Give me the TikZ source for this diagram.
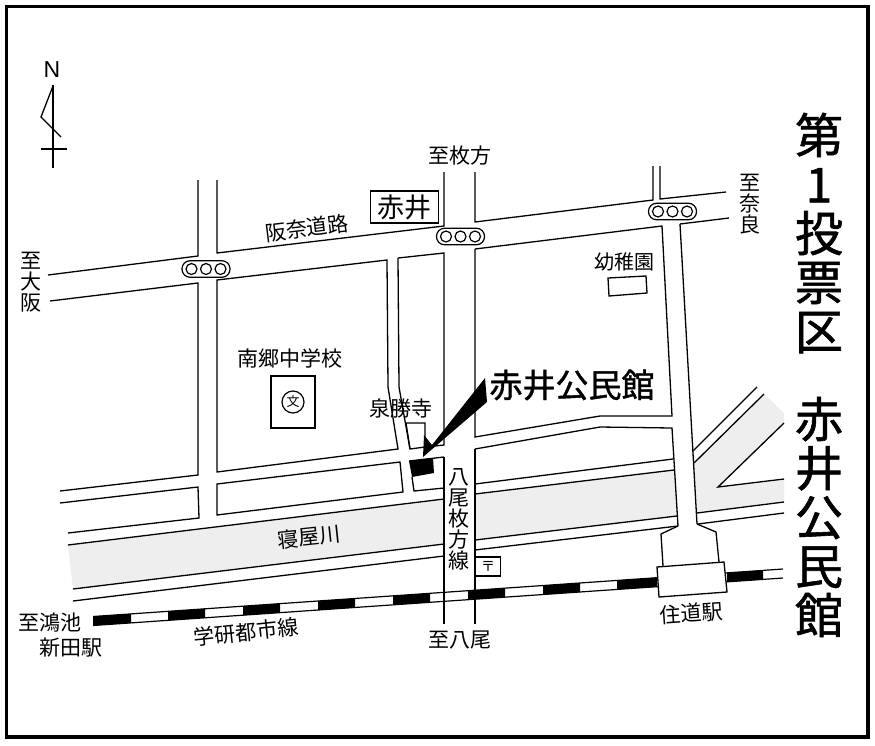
\documentclass[tikz,border=0pt]{standalone}
\usepackage{fontspec}
\setmainfont{Noto Sans CJK JP}
\newfontfamily\latinfont{Liberation Sans}
\newfontfamily\medfont[FakeBold=1.2]{Noto Sans CJK JP}
\definecolor{rivergray}{HTML}{EEEEEE}
\tikzset{
  road/.style={line width=1.3pt,line join=miter},
  lab/.style={inner sep=0pt,align=center,font=\fontsize{21}{21}\selectfont},
  title/.style={inner sep=0pt,align=center,font=\medfont\fontsize{48}{49}\selectfont},
  sigcap/.style={draw,line width=1.2pt,fill=white,rounded corners=8pt,minimum width=48pt,minimum height=16.5pt,inner sep=0pt},
  sigdot/.style={draw,line width=1.2pt,circle,fill=white,minimum size=11pt,inner sep=0pt},
  signal/.pic={
    \node[sigcap] (-cap) at (0,0) {};
    \node[sigdot] (-a) at (-14.5,0) {};
    \node[sigdot] (-b) at (0,0) {};
    \node[sigdot] (-c) at (14.5,0) {};
  }
}
\begin{document}
\begin{tikzpicture}[x=1pt,y=-1pt]
\useasboundingbox (0,0) rectangle (875,745);
\fill[white] (0,0) rectangle (875,745);
% frame
\draw[line width=3.6pt] (6.5,6.5) rectangle (868,737);
% north mark
\node[inner sep=0pt,font=\latinfont\fontsize{23}{23}\selectfont] (north) at (52,70) {N};
\draw[line width=1.3pt] (53,85) -- (53,168);
\draw[line width=1.3pt] (53,86) -- (41,117) -- (61,137);
\draw[line width=1.3pt] (41,149) -- (67,149);
% river fill
\fill[rivergray] (68,545) -- (444,499) -- (444,544) -- (73,589) -- cycle;
\fill[rivergray] (475,494) -- (674,470) -- (677,516) -- (475,540) -- cycle;
\fill[rivergray] (694,463) -- (764,394) -- (784,413) -- (784,423) -- (718,487) -- (784,479) -- (784,502) -- (697,513) -- cycle;
% railway
\foreach \xa/\xb in {93/131,168/205,243/280,318/355,393/430,468/505,543/580,617/657,727/763}{
  \fill (\xa,{621-0.0688*(\xa-93)-4.5}) -- (\xb,{621-0.0688*(\xb-93)-4.5}) -- (\xb,{621-0.0688*(\xb-93)+4.5}) -- (\xa,{621-0.0688*(\xa-93)+4.5}) -- cycle;
}
\draw[line width=1.2pt] (93,616.5) -- (783,569);
\draw[line width=1.2pt] (93,625.5) -- (783,578);
% Hanna road
\draw[road] (48,275) -- (198,256) -- (198,180);
\draw[road] (217,180) -- (217,253) -- (444,226) -- (444,172);
\draw[road] (475,172) -- (475,222) -- (653,200) -- (653,166);
\draw[road] (660,166) -- (660,199) -- (726,192);
\draw[road] (50,301) -- (198,283) -- (198,475) -- (60,491);
\draw[road] (217,280) -- (387,260) -- (388,387) -- (398,449) -- (217,472) -- cycle;
\draw[road] (398,258) -- (444,253) -- (444,445) -- (425,447);
\draw[road] (398,258) -- (399,387) -- (410,449) -- (425,447);
\draw[road] (410,449) -- (406,423) -- (425,423) -- (425,450);
\draw[road] (475,249) -- (662,226) -- (672,416) -- (600,416) -- (475,437) -- (475,249);
\draw[road] (680,224) -- (729,218);
\draw[road] (680,224) -- (697,524);
% lower blocks
\draw[road] (60,503) -- (198,487) -- (199,518) -- (68,533);
\draw[road] (217,484) -- (400,462) -- (403,492) -- (217,515) -- cycle;
\draw[road] (409,461) -- (444,457);
\draw[road] (412,477) -- (414,491) -- (444,488);
\draw[road] (444,457) -- (444,624);
\draw[road] (475,449) -- (475,624);
\draw[road] (475,449) -- (600,427) -- (672,428) -- (678,526);
\draw[road] (475,484) -- (673,459);
\draw[road] (475,494) -- (674,470);
\draw[road] (475,540) -- (677,516);
\draw[road] (475,550) -- (678,526);
% river banks, west
\draw[road] (68,545) -- (444,499);
\draw[road] (73,589) -- (444,544);
\draw[road] (73,601) -- (444,556);
% east of road
\draw[road] (693,451) -- (757,387);
\draw[road] (694,463) -- (764,394);
\draw[road] (784,423) -- (718,487) -- (784,479);
\draw[road] (697,513) -- (784,502);
\draw[road] (698,524) -- (784,513);
% station
\draw[road] (678,526) -- (661,534) -- (663,566);
\draw[road] (697,524) -- (716,532) -- (719,562);
\draw[road,fill=white] (657,567) -- (724,562) -- (727,592) -- (659,597) -- cycle;
% signals
\pic (sa) at (206,269) {signal};
\pic (sb) at (460.5,236.5) {signal};
\pic (sc) at (672.5,211.5) {signal};
% small boxes
\node[draw,line width=1.3pt,fill=white,minimum width=68pt,minimum height=32pt,inner sep=0pt,font=\fontsize{27}{27}\selectfont] (akai) at (404.5,207) {赤井};
\draw[road] (608,278) -- (646,276) -- (647,293) -- (609,296) -- cycle;
\node[draw,line width=1.3pt,minimum width=44pt,minimum height=52pt,inner sep=0pt] (school) at (293,402) {};
\node[draw,circle,line width=1.2pt,minimum size=22pt,inner sep=0pt,font=\fontsize{13}{13}\selectfont] (schoolmark) at (293,402) {文};
\node[draw,line width=1.3pt,minimum width=25pt,minimum height=19pt,inner sep=0pt,font=\fontsize{14}{14}\selectfont] (post) at (488,566.5) {〒};
% target
\fill (409,461) -- (433,458) -- (434,473) -- (412,477) -- cycle;
\fill (423,457) -- (424,435) -- (432,445) -- (485,378) -- (487,402) -- cycle;
% labels
\node[lab] (l1) at (460,156) {至枚方};
\node[lab] (l2) at (750,204.5) {至\\奈\\良};
\node[lab] (l3) at (31,282) {至\\大\\阪};
\node[lab,rotate=7] (l4) at (307,228) {阪奈道路};
\node[lab,font=\fontsize{20}{20}\selectfont] (l5) at (624,262) {幼稚園};
\node[lab] (l6) at (290,358) {南郷中学校};
\node[lab] (l7) at (401,408) {泉勝寺};
\node[lab,rotate=6] (l8) at (309,537) {寝屋川};
\node[lab] (l9) at (459,519.5) {八\\尾\\枚\\方\\線};
\node[lab] (l10) at (49.5,623) {至鴻池};
\node[lab] (l11) at (71,648) {新田駅};
\node[lab,rotate=6] (l12) at (246,632) {学研都市線};
\node[lab] (l13) at (460,640) {至八尾};
\node[lab,rotate=4] (l14) at (691,613) {住道駅};
\node[inner sep=0pt,font=\medfont\fontsize{33}{33}\selectfont] (name) at (572,385) {赤井公民館};
\node[title] (t1) at (819,233) {第\\1\\投\\票\\区};
\node[title] (t2) at (819,517) {赤\\井\\公\\民\\館};
\end{tikzpicture}
\end{document}
